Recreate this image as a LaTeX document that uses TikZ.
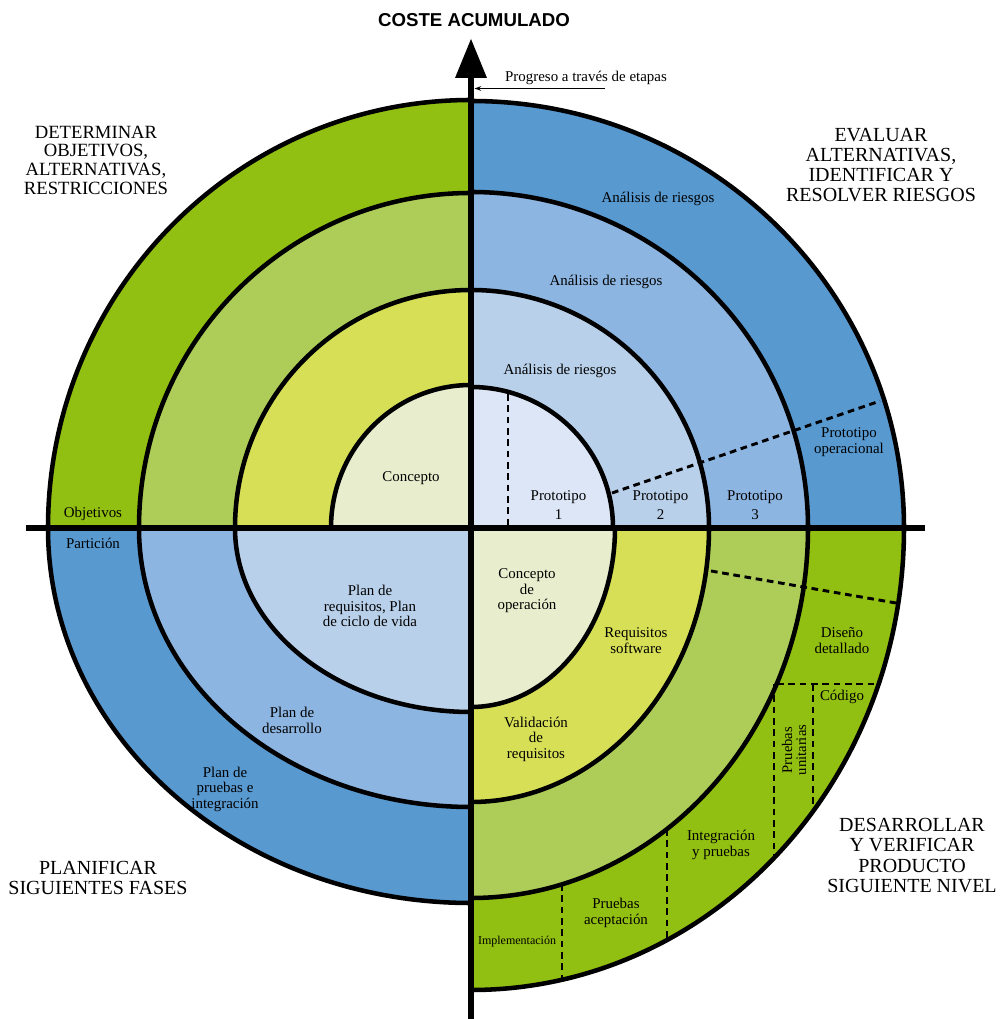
\documentclass[tikz,border=0pt]{standalone}
\usepackage{fontspec}
\setmainfont{Liberation Serif}
\newfontfamily\titlefont{Liberation Sans}
\usetikzlibrary{arrows.meta}
\definecolor{gDark}{RGB}{146,192,18}
\definecolor{gMid}{RGB}{174,205,88}
\definecolor{gYel}{RGB}{214,223,86}
\definecolor{gPale}{RGB}{232,238,205}
\definecolor{bDark}{RGB}{88,153,208}
\definecolor{bMid}{RGB}{141,181,225}
\definecolor{bLight}{RGB}{185,208,234}
\definecolor{bPale}{RGB}{220,230,246}
% quarter slices: #1 colour, #2 x radius, #3 y radius
\newcommand\pieTL[3]{\fill[#1] (0,0) -- (-#2,0) arc[start angle=180,end angle=90,x radius=#2,y radius=#3] -- cycle;}
\newcommand\pieTR[3]{\fill[#1] (0,0) -- (0,#3) arc[start angle=90,end angle=0,x radius=#2,y radius=#3] -- cycle;}
\newcommand\pieBR[3]{\fill[#1] (0,0) -- (#2,0) arc[start angle=0,end angle=-90,x radius=#2,y radius=#3] -- cycle;}
\newcommand\pieBL[3]{\fill[#1] (0,0) -- (0,-#3) arc[start angle=270,end angle=180,x radius=#2,y radius=#3] -- cycle;}
\newcommand\arcTL[2]{\draw[ring] (-#1,0) arc[start angle=180,end angle=90,x radius=#1,y radius=#2];}
\newcommand\arcTR[2]{\draw[ring] (0,#2) arc[start angle=90,end angle=0,x radius=#1,y radius=#2];}
\newcommand\arcBR[2]{\draw[ring] (#1,0) arc[start angle=0,end angle=-90,x radius=#1,y radius=#2];}
\newcommand\arcBL[2]{\draw[ring] (0,-#2) arc[start angle=270,end angle=180,x radius=#1,y radius=#2];}
\begin{document}
\begin{tikzpicture}[x=0.75pt,y=0.75pt,
  ring/.style={line width=3.4pt},
  sep/.style={line width=2.2pt, dash pattern=on 5pt off 3.5pt},
  lbl/.style={font=\fontsize{11.2}{11.6}\selectfont, align=center, inner sep=0pt},
  big/.style={font=\fontsize{15}{15.2}\selectfont, align=center, inner sep=0pt},
]
\useasboundingbox (-471,-491) rectangle (531,528);
\fill[white] (-471,-491) rectangle (531,528);
% ---- fills
\pieTL{gDark}{423}{428}\pieTL{gMid}{332}{335}\pieTL{gYel}{236}{238}\pieTL{gPale}{140}{143}
\pieTR{bDark}{433}{427}\pieTR{bMid}{337}{336}\pieTR{bLight}{238}{238}\pieTR{bPale}{142}{141}
\pieBR{gDark}{433}{462}\pieBR{gMid}{337}{370}\pieBR{gYel}{238}{274}\pieBR{gPale}{144}{179}
\pieBL{bDark}{423}{375}\pieBL{bMid}{332}{279}\pieBL{bLight}{236}{184}
% ---- dashed separators
\coordinate (d1a) at (37,134); \coordinate (d1b) at (37,3);
\coordinate (d2a) at (141,35); \coordinate (d2b) at (409,127);
\coordinate (d3a) at (240,-43); \coordinate (d3b) at (425,-75);
\coordinate (d4a) at (306,-156); \coordinate (d4b) at (407,-156);
\coordinate (d5a) at (303,-156); \coordinate (d5b) at (303,-330);
\coordinate (d6a) at (342,-156); \coordinate (d6b) at (342,-283);
\coordinate (d7a) at (196,-301); \coordinate (d7b) at (196,-412);
\coordinate (d8a) at (91,-356); \coordinate (d8b) at (91,-451);
\foreach \s in {1,...,8} {\draw[sep] (d\s a) -- (d\s b);}
% ---- ring boundaries
\arcTL{423}{428}\arcTL{332}{335}\arcTL{236}{238}\arcTL{140}{143}
\arcTR{433}{427}\arcTR{337}{336}\arcTR{238}{238}\arcTR{142}{141}
\arcBR{433}{462}\arcBR{337}{370}\arcBR{238}{274}\arcBR{144}{179}
\arcBL{423}{375}\arcBL{332}{279}\arcBL{236}{184}
% ---- axes
\coordinate (hl) at (-445,0); \coordinate (hr) at (454,0);
\coordinate (vt) at (0,452); \coordinate (vb) at (0,-491);
\draw[line width=5pt] (hl) -- (hr);
\draw[line width=4.5pt] (vt) -- (vb);
\fill (0,489) -- (-16,450) -- (16,450) -- cycle;
\node[font=\fontsize{14}{14}\selectfont\titlefont\bfseries, inner sep=0pt] (coste) at (3,508) {COSTE ACUMULADO};
\node[lbl] (prog) at (115,450) {Progreso a través de etapas};
\coordinate (pa) at (134,439.5); \coordinate (pb) at (3.5,439.5);
\draw[line width=0.8pt, -{Stealth[length=5pt,width=3.5pt]}] (pa) -- (pb);
% ---- big quadrant titles
\node[big, font=\fontsize{14}{14}\selectfont] (q1) at (-375,368) {DETERMINAR\\OBJETIVOS,\\ALTERNATIVAS,\\RESTRICCIONES};
\node[big] (q2) at (410,363) {EVALUAR\\ALTERNATIVAS,\\IDENTIFICAR Y\\RESOLVER RIESGOS};
\node[big] (q3) at (-373,-350) {PLANIFICAR\\SIGUIENTES FASES};
\node[big] (q4) at (441,-327.5) {DESARROLLAR\\Y VERIFICAR\\PRODUCTO\\SIGUIENTE NIVEL};
% ---- top-left labels
\node[lbl] (concepto) at (-60,50) {Concepto};
\node[lbl] (obj) at (-378,14) {Objetivos};
% ---- top-right labels
\node[lbl] (ar3) at (187,329) {Análisis de riesgos};
\node[lbl] (ar2) at (135,246) {Análisis de riesgos};
\node[lbl] (ar1) at (89,157) {Análisis de riesgos};
\node[lbl] (p1) at (87.5,23) {Prototipo\\[3pt]1};
\node[lbl] (p2) at (189.5,23) {Prototipo\\[3pt]2};
\node[lbl] (p3) at (284,23) {Prototipo\\[3pt]3};
\node[lbl] (pop) at (378,86) {Prototipo\\operacional};
% ---- bottom-left labels
\node[lbl] (part) at (-378,-15) {Partición};
\node[lbl] (preq) at (-101,-78) {Plan de\\requisitos, Plan\\de ciclo de vida};
\node[lbl] (pdes) at (-179,-192.5) {Plan de\\desarrollo};
\node[lbl] (ppru) at (-246,-261) {Plan de\\pruebas e\\integración};
% ---- bottom-right labels
\node[lbl] (cop) at (56,-63) {Concepto\\de\\operación};
\node[lbl] (rsw) at (165,-112.5) {Requisitos\\software};
\node[lbl] (vreq) at (65,-211) {Validación\\de\\requisitos};
\node[lbl] (dis) at (371,-112.5) {Diseño\\detallado};
\node[lbl] (cod) at (371,-169) {Código};
\node[lbl, font=\fontsize{11}{10.5}\selectfont, rotate=90] (unit) at (323,-222) {Pruebas\\unitarias};
\node[lbl] (integ) at (250,-317) {Integración\\y pruebas};
\node[lbl] (acep) at (145,-385) {Pruebas\\aceptación};
\node[lbl, font=\fontsize{9}{9}\selectfont] (impl) at (46,-414) {Implementación};
\end{tikzpicture}
\end{document}
